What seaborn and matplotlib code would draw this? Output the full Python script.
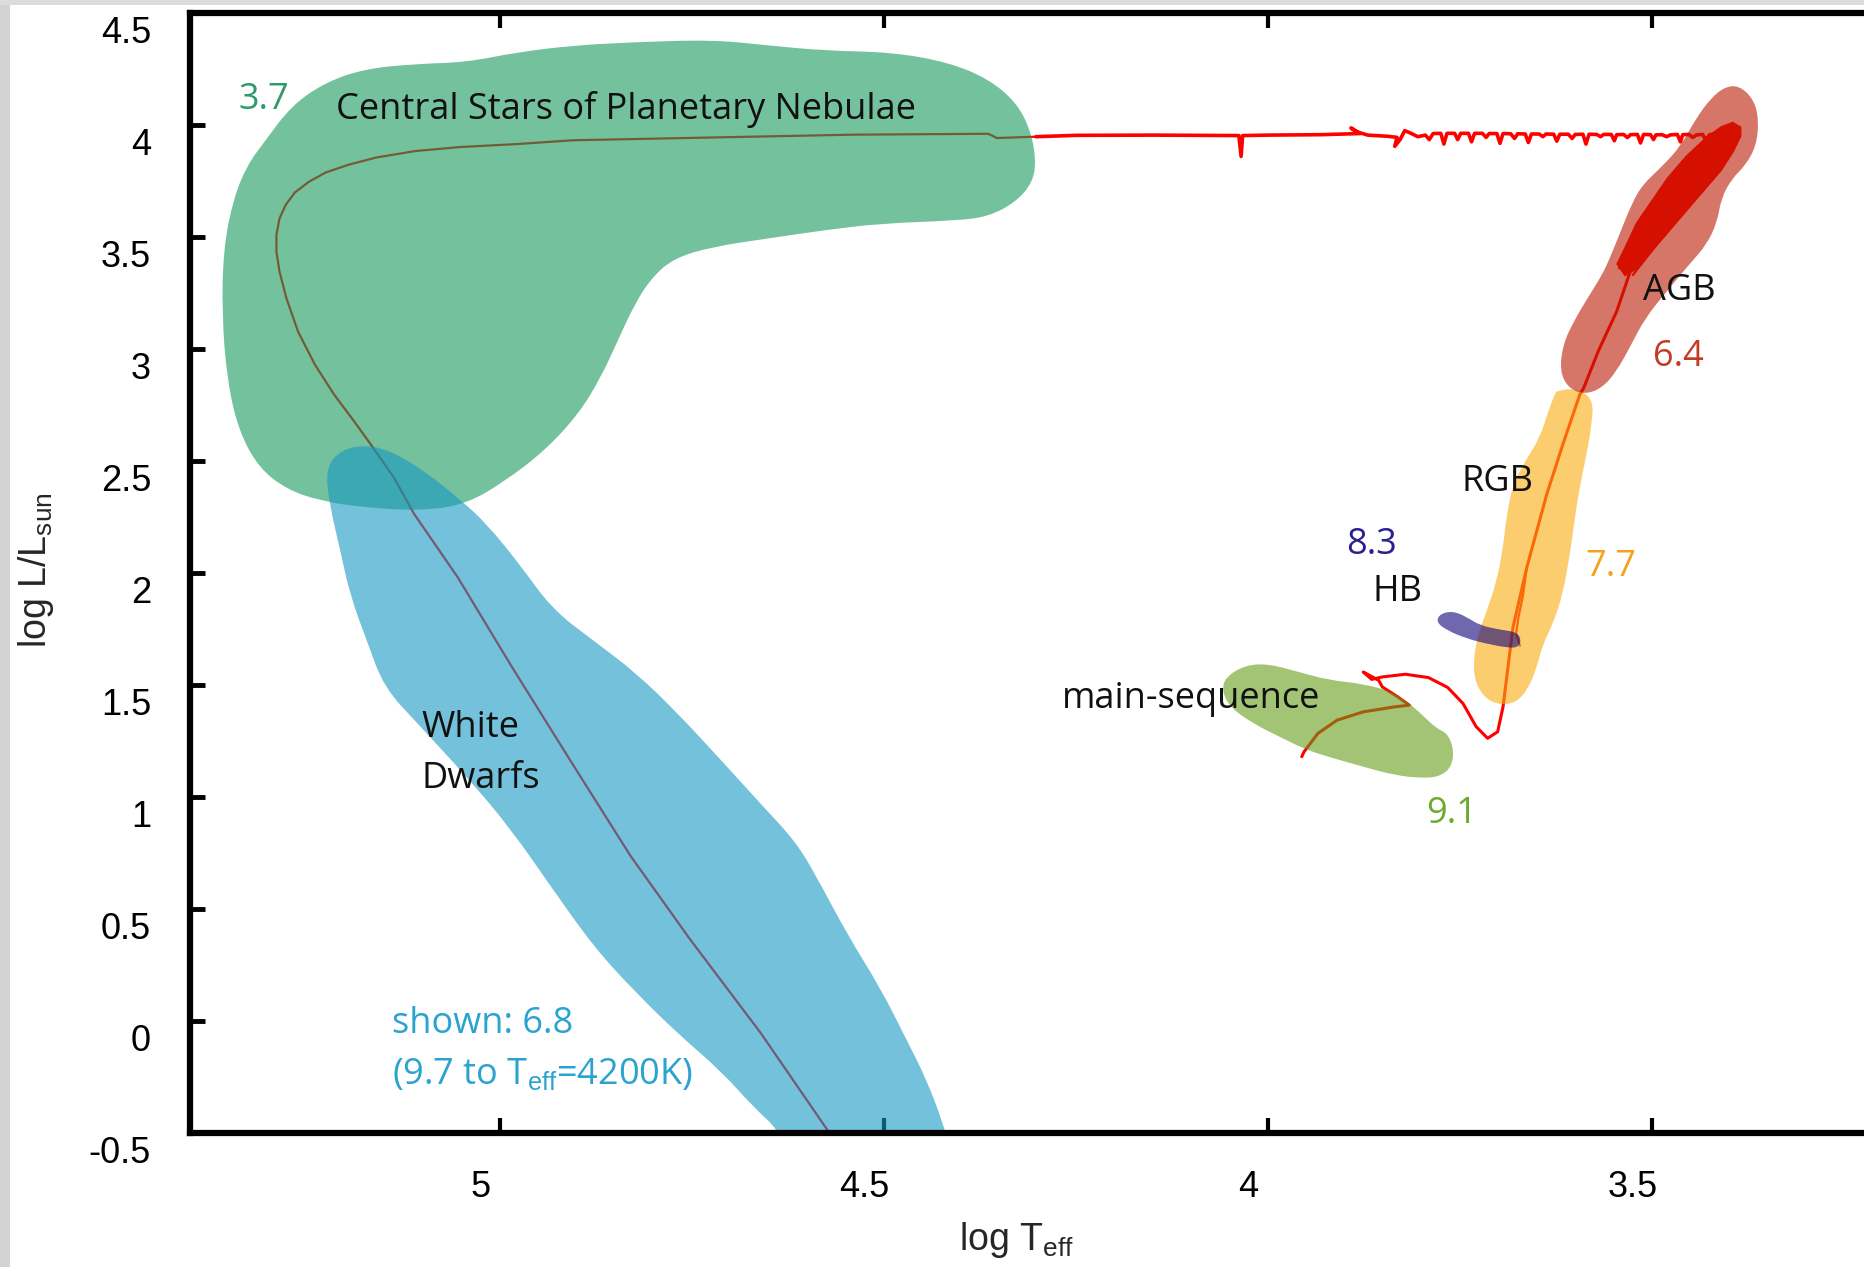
import numpy as np
import pandas as pd
import matplotlib
matplotlib.use("Agg")
import matplotlib.pyplot as plt
import matplotlib.transforms as mtransforms
from matplotlib.path import Path
from matplotlib.patches import PathPatch, Rectangle
import seaborn as sns

# ---------------- data ----------------
x_ticks = [5, 4.5, 4, 3.5]
x_tick_labels = ["5", "4.5", "4", "3.5"]
y_ticks = [-0.5, 0, 0.5, 1, 1.5, 2, 2.5, 3, 3.5, 4, 4.5]
y_tick_labels = ["-0.5", "0", "0.5", "1", "1.5", "2", "2.5", "3", "3.5", "4", "4.5"]

# regions (outlines, log Teff / log L)
cspn_x = [5.307, 5.271, 5.227, 5.176, 5.110, 5.044, 4.978, 4.905, 4.832, 4.723, 4.650, 4.577,
          4.489, 4.416, 4.364, 4.328, 4.310, 4.302, 4.306, 4.328, 4.364, 4.408, 4.503, 4.577,
          4.650, 4.723, 4.774, 4.803, 4.825, 4.847, 4.869, 4.898, 4.942, 4.993, 5.044, 5.102,
          5.176, 5.234, 5.278, 5.314, 5.340, 5.355, 5.362, 5.360, 5.347, 5.329]
cspn_y = [3.924, 4.088, 4.191, 4.251, 4.273, 4.280, 4.325, 4.355, 4.369, 4.381, 4.355, 4.332,
          4.325, 4.280, 4.206, 4.102, 3.984, 3.850, 3.746, 3.657, 3.591, 3.573, 3.561, 3.531,
          3.494, 3.457, 3.405, 3.316, 3.198, 3.034, 2.871, 2.708, 2.545, 2.411, 2.307, 2.278,
          2.292, 2.322, 2.374, 2.470, 2.634, 2.856, 3.153, 3.449, 3.672, 3.821]

wd_x = [5.227, 5.206, 5.173, 5.140, 5.096, 5.052, 5.019, 4.975, 4.932, 4.877, 4.822, 4.767,
        4.712, 4.658, 4.614, 4.586, 4.548, 4.504, 4.471, 4.444, 4.422, 4.415, 4.640, 4.636,
        4.669, 4.712, 4.767, 4.822, 4.877, 4.932, 4.986, 5.041, 5.107, 5.151, 5.173, 5.195,
        5.208, 5.222]
wd_y = [2.470, 2.552, 2.572, 2.542, 2.450, 2.328, 2.226, 2.042, 1.838, 1.695, 1.552, 1.368,
        1.164, 0.960, 0.797, 0.633, 0.388, 0.143, -0.081, -0.265, -0.469, -0.560, -0.560, -0.490,
        -0.388, -0.224, -0.061, 0.123, 0.327, 0.592, 0.858, 1.082, 1.327, 1.490, 1.695, 1.899,
        2.103, 2.307]

ms_x = [4.055, 4.030, 4.000, 3.960, 3.920, 3.876, 3.831, 3.801, 3.781, 3.766, 3.758, 3.761,
        3.776, 3.801, 3.836, 3.876, 3.915, 3.950, 3.985, 4.020, 4.050, 4.060]
ms_y = [1.536, 1.588, 1.595, 1.558, 1.521, 1.506, 1.462, 1.373, 1.306, 1.284, 1.210, 1.135,
        1.091, 1.084, 1.098, 1.135, 1.173, 1.210, 1.269, 1.329, 1.402, 1.477]

hb_x = [3.776, 3.759, 3.741, 3.724, 3.698, 3.676, 3.670, 3.675, 3.689, 3.715, 3.741, 3.767, 3.781]
hb_y = [1.818, 1.830, 1.803, 1.766, 1.747, 1.736, 1.699, 1.667, 1.667, 1.684, 1.707, 1.744, 1.781]

rgb_x = [3.624, 3.602, 3.576, 3.579, 3.587, 3.596, 3.602, 3.607, 3.616, 3.629, 3.642, 3.650,
         3.661, 3.676, 3.694, 3.715, 3.730, 3.733, 3.726, 3.715, 3.702, 3.694, 3.689, 3.681,
         3.665, 3.646, 3.635, 3.626]
rgb_y = [2.812, 2.826, 2.782, 2.648, 2.500, 2.352, 2.203, 2.085, 1.907, 1.773, 1.684, 1.580,
         1.484, 1.425, 1.410, 1.432, 1.506, 1.610, 1.729, 1.833, 1.966, 2.114, 2.263, 2.397,
         2.500, 2.604, 2.723, 2.804]

agb_x = [3.387, 3.368, 3.361, 3.364, 3.378, 3.396, 3.410, 3.415, 3.429, 3.452, 3.481, 3.509,
         3.527, 3.546, 3.565, 3.588, 3.609, 3.620, 3.616, 3.602, 3.584, 3.565, 3.555, 3.541,
         3.527, 3.513, 3.485, 3.462, 3.443, 3.424, 3.406]
agb_y = [4.177, 4.117, 4.028, 3.910, 3.821, 3.761, 3.672, 3.568, 3.465, 3.376, 3.257, 3.138,
         3.020, 2.901, 2.826, 2.797, 2.826, 2.901, 3.020, 3.123, 3.227, 3.331, 3.405, 3.524,
         3.643, 3.732, 3.821, 3.910, 4.028, 4.117, 4.169]

# thermal-pulse band on the AGB
pulse_x = [3.545, 3.535, 3.520, 3.500, 3.480, 3.455, 3.430, 3.410, 3.395, 3.385, 3.385,
           3.395, 3.410, 3.430, 3.450, 3.470, 3.490, 3.505, 3.520, 3.535]
pulse_y = [3.380, 3.450, 3.560, 3.660, 3.760, 3.860, 3.940, 3.990, 4.010, 3.990, 3.950,
           3.880, 3.800, 3.720, 3.640, 3.560, 3.480, 3.420, 3.360, 3.330]
# a few separate pulse strands
strand1_x = [3.543, 3.532, 3.512, 3.488, 3.462, 3.435, 3.410, 3.392]
strand1_y = [3.360, 3.430, 3.560, 3.680, 3.790, 3.880, 3.950, 3.985]
strand2_x = [3.525, 3.500, 3.478, 3.452, 3.425, 3.400, 3.385]
strand2_y = [3.330, 3.440, 3.540, 3.640, 3.750, 3.860, 3.960]

# evolutionary track: ZAMS -> turnoff -> RGB -> AGB
evo_x = [3.956, 3.953, 3.935, 3.910, 3.876, 3.836, 3.816, 3.831, 3.851, 3.856, 3.876, 3.865,
         3.851, 3.821, 3.791, 3.766, 3.746, 3.729, 3.714, 3.701, 3.694, 3.681, 3.663, 3.637,
         3.616, 3.594, 3.589, 3.570, 3.546, 3.527, 3.509, 3.490, 3.465, 3.440, 3.415, 3.395]
evo_y = [1.180, 1.202, 1.284, 1.343, 1.380, 1.402, 1.410, 1.447, 1.491, 1.521, 1.558, 1.525,
         1.536, 1.548, 1.533, 1.489, 1.417, 1.314, 1.262, 1.291, 1.402, 1.758, 2.025, 2.352,
         2.575, 2.797, 2.826, 2.990, 3.168, 3.360, 3.494, 3.620, 3.750, 3.860, 3.930, 3.970]

# horizontal-branch piece of the track
hbt_x = [3.672, 3.677, 3.674, 3.668, 3.663]
hbt_y = [1.675, 1.730, 1.800, 1.900, 2.025]

# post-AGB crossing (noisy)
post_x = [3.390, 3.395, 3.400, 3.404, 3.410, 3.414, 3.418, 3.425, 3.430, 3.434, 3.442, 3.447,
          3.452, 3.460, 3.463, 3.467, 3.476, 3.481, 3.487, 3.495, 3.498, 3.502, 3.511, 3.515,
          3.519, 3.528, 3.532, 3.537, 3.546, 3.549, 3.553, 3.563, 3.567, 3.572, 3.582, 3.586,
          3.590, 3.600, 3.604, 3.609, 3.620, 3.624, 3.628, 3.638, 3.642, 3.647, 3.657, 3.661,
          3.665, 3.675, 3.679, 3.684, 3.694, 3.698, 3.702, 3.712, 3.716, 3.721, 3.731, 3.735,
          3.739, 3.749, 3.753, 3.757, 3.767, 3.771, 3.775, 3.785, 3.790, 3.795, 3.805, 3.815,
          3.822, 3.828, 3.835, 3.832, 3.845, 3.870, 3.885, 3.892, 3.880, 3.930, 4.000, 4.033,
          4.035, 4.038, 4.150, 4.250, 4.302]
post_y = [3.975, 3.960, 3.985, 3.955, 3.962, 3.940, 3.960, 3.957, 3.932, 3.958, 3.956, 3.945,
          3.958, 3.957, 3.925, 3.958, 3.956, 3.948, 3.957, 3.956, 3.935, 3.957, 3.958, 3.920,
          3.958, 3.957, 3.944, 3.958, 3.957, 3.930, 3.958, 3.958, 3.948, 3.958, 3.959, 3.915,
          3.959, 3.958, 3.940, 3.959, 3.959, 3.928, 3.959, 3.960, 3.948, 3.960, 3.960, 3.922,
          3.960, 3.961, 3.940, 3.961, 3.962, 3.918, 3.962, 3.962, 3.945, 3.963, 3.963, 3.925,
          3.963, 3.963, 3.935, 3.963, 3.963, 3.915, 3.963, 3.962, 3.935, 3.955, 3.948, 3.965,
          3.975, 3.935, 3.905, 3.945, 3.950, 3.955, 3.970, 3.987, 3.962, 3.957, 3.955, 3.953,
          3.860, 3.953, 3.955, 3.954, 3.948]

# CSPN -> white-dwarf cooling track
cool_x = [4.302, 4.353, 4.364, 4.540, 4.759, 4.905, 4.978, 5.051, 5.110, 5.161, 5.197, 5.227,
          5.249, 5.267, 5.279, 5.287, 5.291, 5.291, 5.287, 5.278, 5.263, 5.241, 5.216, 5.190,
          5.165, 5.137, 5.112, 5.055, 4.985, 4.908, 4.830, 4.753, 4.660, 4.572]
cool_y = [3.948, 3.942, 3.961, 3.957, 3.942, 3.932, 3.915, 3.902, 3.884, 3.855, 3.823, 3.788,
          3.746, 3.699, 3.643, 3.583, 3.509, 3.435, 3.346, 3.227, 3.079, 2.931, 2.797, 2.678,
          2.559, 2.420, 2.265, 1.981, 1.584, 1.161, 0.737, 0.367, -0.056, -0.495]

# ---------------- style ----------------
sns.set_theme(style="white")
plt.rcParams["font.family"] = ["Liberation Sans", "DejaVu Sans"]
plt.rcParams["mathtext.fontset"] = "custom"
plt.rcParams["mathtext.rm"] = "Liberation Sans"
plt.rcParams["mathtext.it"] = "Liberation Sans:italic"

ANN = ["Open Sans", "DejaVu Sans"]

fig = plt.figure(figsize=(18.64, 12.67), dpi=100)
fig.patch.set_facecolor("white")
ax = fig.add_axes([0.1019, 0.1058, 0.8981, 0.8839])
ax.set_facecolor("white")


def blob(xs, ys, color, alpha=0.6, z=2):
    pts = np.column_stack([xs, ys])
    n = len(pts)
    mids = (pts + np.roll(pts, -1, axis=0)) / 2.0
    verts = [mids[-1]]
    codes = [Path.MOVETO]
    for i in range(n):
        verts += [pts[i], mids[i]]
        codes += [Path.CURVE3, Path.CURVE3]
    verts.append(mids[-1])
    codes.append(Path.CLOSEPOLY)
    ax.add_patch(PathPatch(Path(verts, codes), facecolor=color, alpha=alpha,
                           lw=0, zorder=z))


def track(xs, ys, lw, color="#ff0000"):
    sns.lineplot(x=xs, y=ys, sort=False, estimator=None, color=color, lw=lw,
                 ax=ax, zorder=1, solid_joinstyle="round", solid_capstyle="round")


RED = "#ff0000"
# tracks first (regions are translucent overlays)
track(evo_x, evo_y, 2.2)
track(hbt_x, hbt_y, 1.6)
track(post_x, post_y, 2.6)
track(cool_x, cool_y, 1.6)
track(strand1_x, strand1_y, 1.6)
track(strand2_x, strand2_y, 1.6)
ax.fill(pulse_x, pulse_y, color=RED, lw=1.5, ec=RED, zorder=1)

# translucent regions
blob(cspn_x, cspn_y, "#17995D")
blob(wd_x, wd_y, "#1698C3", z=2.1)
blob(ms_x, ms_y, "#649D17")
blob(rgb_x, rgb_y, "#FAAD0D")
blob(agb_x, agb_y, "#B91B03", z=2.1)
blob(hb_x, hb_y, "#11037B", z=2.2)

# annotations
fs = 26
tk = dict(fontfamily=ANN, fontsize=fs, zorder=5)
ax.text(5.213, 4.071, "Central Stars of Planetary Nebulae", ha="left", va="center", color="#111111", **tk)
ax.text(5.307, 4.113, "3.7", ha="center", va="center", color="#2E9B6B", **tk)
ax.text(5.102, 1.309, "White", ha="left", va="center", color="#111111", **tk)
ax.text(5.102, 1.082, "Dwarfs", ha="left", va="center", color="#111111", **tk)
ax.text(5.140, -0.014, "shown: 6.8", ha="left", va="center", color="#2BA3CF", **tk)
ax.text(5.140, -0.241, r"(9.7 to T$_{\mathrm{eff}}$=4200K)", ha="left", va="center", color="#2BA3CF", **tk)
ax.text(4.269, 1.437, "main-sequence", ha="left", va="center", color="#111111", **tk)
ax.text(3.761, 0.923, "9.1", ha="center", va="center", color="#6BAA2C", **tk)
ax.text(3.865, 2.124, "8.3", ha="center", va="center", color="#2A1F8F", **tk)
ax.text(3.832, 1.917, "HB", ha="center", va="center", color="#111111", **tk)
ax.text(3.553, 2.028, "7.7", ha="center", va="center", color="#F5A31A", **tk)
ax.text(3.701, 2.405, "RGB", ha="center", va="center", color="#111111", **tk)
ax.text(3.464, 3.261, "AGB", ha="center", va="center", color="#111111", **tk)
ax.text(3.465, 2.965, "6.4", ha="center", va="center", color="#C23B22", **tk)

# axes
ax.set_xlim(5.4036, 3.224)
ax.set_ylim(-0.5, 4.5)
ax.set_xlabel("")
ax.set_ylabel("")
for side in ["left", "top", "bottom"]:
    ax.spines[side].set_visible(True)
    ax.spines[side].set_linewidth(4.5)
    ax.spines[side].set_color("black")
ax.spines["right"].set_visible(False)

ax.set_xticks(x_ticks)
ax.set_xticklabels(x_tick_labels)
ax.set_yticks(y_ticks)
ax.set_yticklabels(y_tick_labels)
ax.tick_params(axis="x", which="major", direction="in", top=True, bottom=True,
               length=11, width=3, pad=27, labelsize=26, colors="black")
ax.tick_params(axis="y", which="major", direction="in", left=True, right=False,
               length=11, width=3.5, pad=28, labelsize=26, colors="black")

offx = mtransforms.ScaledTranslation(-14 / 72, 0, fig.dpi_scale_trans)
offy = mtransforms.ScaledTranslation(0, -12 / 72, fig.dpi_scale_trans)
for t in ax.xaxis.get_major_ticks():
    t.label1.set_transform(t.label1.get_transform() + offx)
for t in ax.yaxis.get_major_ticks():
    t.label1.set_transform(t.label1.get_transform() + offy)

fig.text(0.5454, 0.0213, r"log T$_{\mathrm{eff}}$", ha="center", va="center", fontsize=27)
fig.text(0.0191, 0.5496, r"log L/L$_{\mathrm{sun}}$", ha="center", va="center",
         rotation=90, fontsize=27)

# screenshot frame
fig.add_artist(Rectangle((0, 0), 10 / 1864, 1, transform=fig.transFigure,
                         facecolor="#d2d2d2", edgecolor="none", zorder=10))
fig.add_artist(Rectangle((0, 1 - 5 / 1267), 1, 5 / 1267, transform=fig.transFigure,
                         facecolor="#dcdcdc", edgecolor="none", zorder=10))

fig.savefig("out.png", dpi=100, facecolor="white")
